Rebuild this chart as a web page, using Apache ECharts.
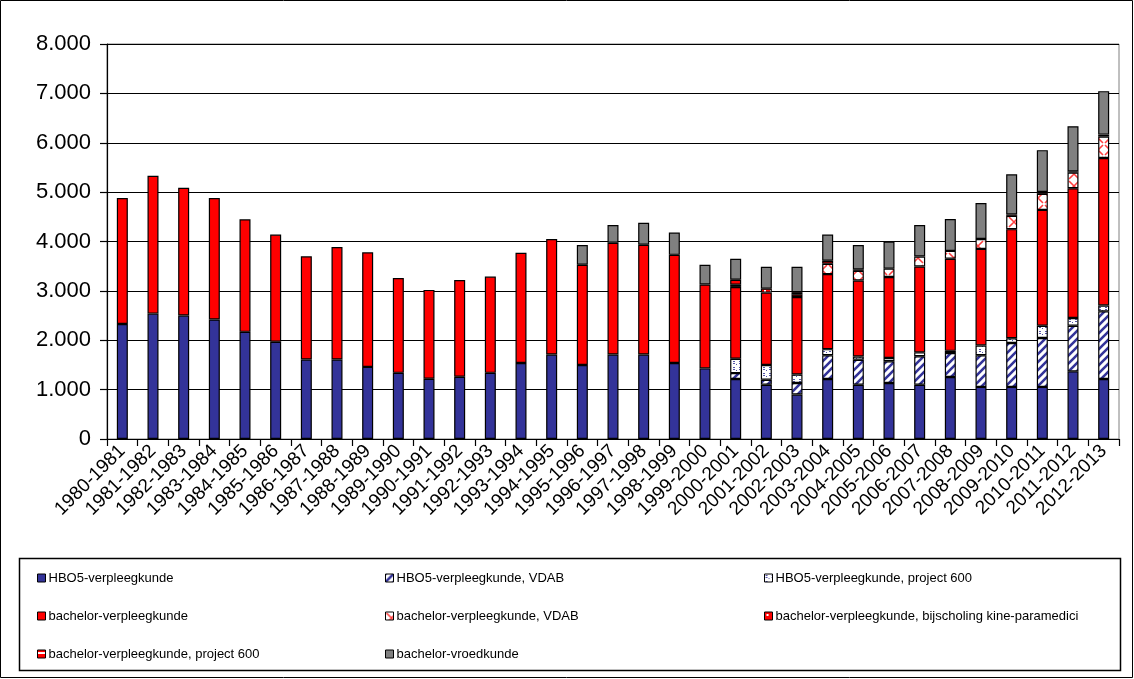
<!DOCTYPE html>
<html>
<head>
<meta charset="utf-8">
<script src="https://cdn.jsdelivr.net/npm/echarts@6/dist/echarts.min.js"></script>
<style>
  html, body { margin: 0; padding: 0; background: #fff; }
  #chart { width: 1134px; height: 679px; }
</style>
</head>
<body>
<div id="chart"></div>
<script>
// Academic years on the category axis
const years = [
  '1980-1981','1981-1982','1982-1983','1983-1984','1984-1985','1985-1986','1986-1987',
  '1987-1988','1988-1989','1989-1990','1990-1991','1991-1992','1992-1993','1993-1994',
  '1994-1995','1995-1996','1996-1997','1997-1998','1998-1999','1999-2000','2000-2001',
  '2001-2002','2002-2003','2003-2004','2004-2005','2005-2006','2006-2007','2007-2008',
  '2008-2009','2009-2010','2010-2011','2011-2012','2012-2013'
];

// Student counts per programme (null = programme not offered that year)
const hbo5 = [2330,2540,2500,2420,2170,1970,1610,1610,1460,1340,1220,1260,1340,1540,1710,1500,1710,1710,1540,1430,1215,1100,900,1215,1100,1135,1100,1255,1055,1055,1055,1370,1215];
const hbo5Vdab = [null,null,null,null,null,null,null,null,null,null,null,null,null,null,null,null,null,null,null,null,120,100,235,480,505,440,575,485,640,890,990,925,1370];
const hbo5Project600 = [null,null,null,null,null,null,null,null,null,null,null,null,null,null,null,null,null,null,null,null,290,300,170,125,65,65,80,45,200,95,250,155,120];
const bachelor = [2550,2790,2590,2460,2280,2170,2090,2280,2320,1920,1800,1960,1950,2230,2340,2030,2265,2225,2190,1700,1455,1465,1570,1520,1540,1640,1740,1865,1955,2210,2345,2630,2985];
const bachelorVdab = [null,null,null,null,null,null,null,null,null,null,null,null,null,null,null,null,null,null,null,null,null,null,null,210,195,170,200,160,200,270,325,315,435];
const bachelorBijscholing = [null,null,null,null,null,null,null,null,null,null,null,null,null,null,null,null,null,null,null,null,45,80,55,60,30,null,null,null,null,30,40,25,40];
const bachelorProject600 = [null,null,null,null,null,null,null,null,null,null,null,null,null,null,null,null,null,null,null,null,100,null,45,null,null,null,null,null,null,null,null,null,null];
const vroedkunde = [null,null,null,null,null,null,null,null,null,null,null,null,null,null,null,400,360,445,450,400,425,445,515,530,495,550,640,645,730,810,845,915,880];

// Y axis tick values
const yTicks = [0,1000,2000,3000,4000,5000,6000,7000,8000];

const NAVY = '#333399';
const RED = '#ff0000';
const GREY = '#808080';

// Small canvas tiles used as fill patterns
function pattern(w, h, bg, draw) {
  const c = document.createElement('canvas');
  c.width = w; c.height = h;
  const ctx = c.getContext('2d');
  ctx.fillStyle = bg;
  ctx.fillRect(0, 0, w, h);
  draw(ctx, w, h);
  return { image: c, repeat: 'repeat' };
}

const navyHatch = pattern(8, 8, '#ffffff', (ctx) => {
  ctx.strokeStyle = NAVY;
  ctx.lineWidth = 2.6;
  ctx.beginPath();
  ctx.moveTo(-2, 10); ctx.lineTo(10, -2);
  ctx.moveTo(-6, 6); ctx.lineTo(6, -6);
  ctx.moveTo(2, 14); ctx.lineTo(14, 2);
  ctx.stroke();
});

const navyDots = pattern(6, 6, '#ffffff', (ctx) => {
  ctx.fillStyle = '#5555aa';
  ctx.fillRect(1, 1, 2, 1);
  ctx.fillRect(1, 3, 2, 1);
  ctx.fillRect(4, 4, 1, 1);
});

const redCross = pattern(12, 12, '#ffffff', (ctx) => {
  ctx.strokeStyle = '#ff4040';
  ctx.lineWidth = 1.6;
  ctx.beginPath();
  ctx.moveTo(1, 1); ctx.lineTo(11, 11);
  ctx.moveTo(11, 1); ctx.lineTo(1, 11);
  ctx.stroke();
});

const redDots = pattern(6, 6, RED, (ctx) => {
  ctx.fillStyle = '#ffffff';
  ctx.fillRect(2, 2, 2, 2);
});

const redStripes = pattern(6, 6, RED, (ctx) => {
  ctx.fillStyle = '#ffffff';
  ctx.fillRect(0, 2, 6, 2);
});

const seriesDefs = [
  { name: 'HBO5-verpleegkunde', data: hbo5, color: NAVY },
  { name: 'HBO5-verpleegkunde, VDAB', data: hbo5Vdab, color: navyHatch },
  { name: 'HBO5-verpleegkunde, project 600', data: hbo5Project600, color: navyDots },
  { name: 'bachelor-verpleegkunde', data: bachelor, color: RED },
  { name: 'bachelor-verpleegkunde, VDAB', data: bachelorVdab, color: redCross },
  { name: 'bachelor-verpleegkunde, bijscholing kine-paramedici', data: bachelorBijscholing, color: redDots },
  { name: 'bachelor-verpleegkunde, project 600', data: bachelorProject600, color: redStripes },
  { name: 'bachelor-vroedkunde', data: vroedkunde, color: GREY }
];

const FONT = '"Liberation Sans", Arial, sans-serif';

function legendColumn(left, names) {
  return {
    orient: 'vertical',
    left: left,
    top: 571,
    padding: 0,
    itemWidth: 8,
    itemHeight: 8,
    itemGap: 24,
    selectedMode: false,
    icon: 'rect',
    itemStyle: { borderColor: '#000', borderWidth: 1 },
    textStyle: { fontFamily: FONT, fontSize: 13, color: '#000', lineHeight: 14, padding: [0, 0, 0, -2] },
    data: names
  };
}

const chart = echarts.init(document.getElementById('chart'), null, { renderer: 'canvas' });

chart.setOption({
  animation: false,
  backgroundColor: '#ffffff',
  textStyle: { fontFamily: FONT },
  grid: {
    left: 107, right: 15, top: 44, bottom: 240,
    show: true, borderColor: GREY, borderWidth: 1, backgroundColor: '#fff'
  },
  legend: [
    legendColumn(37, [seriesDefs[0].name, seriesDefs[3].name, seriesDefs[6].name]),
    legendColumn(385, [seriesDefs[1].name, seriesDefs[4].name, seriesDefs[7].name]),
    legendColumn(764, [seriesDefs[2].name, seriesDefs[5].name])
  ],
  xAxis: {
    type: 'category',
    data: years,
    axisLine: { lineStyle: { color: '#000', width: 1.2 } },
    axisTick: { show: true, length: 7, lineStyle: { color: '#000', width: 1.2 } },
    axisLabel: {
      rotate: 45, margin: 9, interval: 0,
      fontFamily: FONT, fontSize: 19, color: '#000'
    }
  },
  yAxis: {
    type: 'value',
    min: yTicks[0], max: yTicks[yTicks.length - 1], interval: 1000,
    axisLine: { show: true, lineStyle: { color: '#000', width: 1.2 } },
    axisTick: { show: true, length: 7, lineStyle: { color: '#000', width: 1.2 } },
    splitLine: { show: true, lineStyle: { color: '#000', width: 1.2 } },
    axisLabel: {
      margin: 16, fontFamily: FONT, fontSize: 22, color: '#000',
      formatter: (v) => String(v).replace(/\B(?=(\d{3})+(?!\d))/g, '.')
    }
  },
  graphic: [
    { type: 'rect', shape: { x: 0.5, y: 0.5, width: 1132, height: 677 },
      style: { fill: 'none', stroke: '#000', lineWidth: 1 }, silent: true, z: 100 },
    { type: 'rect', shape: { x: 19.5, y: 558.5, width: 1101, height: 112 },
      style: { fill: 'none', stroke: '#000', lineWidth: 1.5 }, silent: true, z: 100 }
  ],
  series: seriesDefs.map((s) => ({
    name: s.name,
    type: 'bar',
    stack: 'total',
    barWidth: 11,
    data: s.data,
    itemStyle: { color: s.color, borderColor: '#000', borderWidth: 1.2 }
  }))
});
</script>
</body>
</html>
